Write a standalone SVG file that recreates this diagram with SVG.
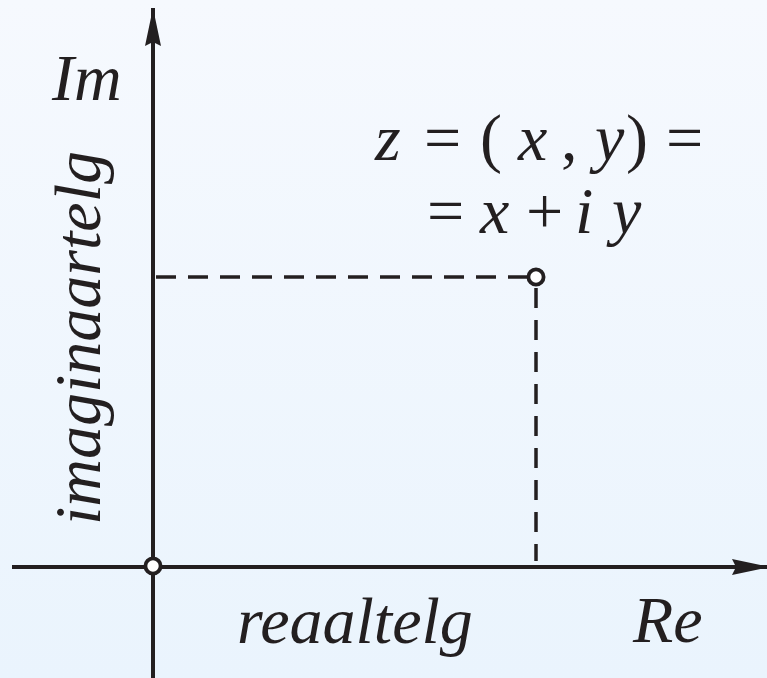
<svg xmlns="http://www.w3.org/2000/svg" width="767" height="678" viewBox="0 0 767 678">
<defs>
<linearGradient id="bg" x1="0" y1="0" x2="0" y2="1">
<stop offset="0" stop-color="#f6f9fe"/>
<stop offset="1" stop-color="#eaf4fd"/>
</linearGradient>
<marker id="arr" viewBox="0 0 38 16" refX="38" refY="8" markerWidth="38" markerHeight="16" markerUnits="userSpaceOnUse" orient="auto">
<path d="M0,0 L38,8 L0,16 L4,8 Z" fill="#231f20"/>
</marker>
</defs>
<style>
.t{font-family:'Liberation Serif','Times New Roman',serif;font-style:italic;font-size:66px;fill:#231f20}
.u{font-style:normal}
.ax{stroke:#231f20;stroke-width:4;fill:none}
.ds{stroke:#231f20;stroke-width:3.5;fill:none;stroke-dasharray:20 12}
.pt{fill:#ffffff;stroke:#231f20;stroke-width:3.8}
</style>
<rect x="0" y="0" width="767" height="678" fill="url(#bg)"/>
<g id="connectors">
<line class="ax" x1="153" y1="678" x2="153" y2="8" marker-end="url(#arr)"/>
<line class="ax" x1="12" y1="567" x2="770" y2="567" marker-end="url(#arr)"/>
<line class="ds" x1="156" y1="277" x2="528" y2="277"/>
<line class="ds" x1="536" y1="288" x2="536" y2="561"/>
</g>
<g id="origin"><circle class="pt" cx="153" cy="566" r="7.6"/></g>
<g id="point-z"><circle class="pt" cx="536" cy="277" r="7.6"/></g>
<g id="label-im"><text class="t" x="52" y="100">Im</text></g>
<g id="label-re"><text class="t" x="633" y="642">Re</text></g>
<g id="label-real"><text class="t" x="237" y="643">reaaltelg</text></g>
<g id="label-imag"><text class="t" transform="translate(100,525) rotate(-90)" x="0" y="0">imaginaartelg</text></g>
<g id="formula">
<text class="t" y="160"><tspan x="375">z</tspan><tspan class="u" x="424">=</tspan><tspan class="u" x="480">(</tspan><tspan x="518">x</tspan><tspan class="u" x="561">,</tspan><tspan x="595">y</tspan><tspan class="u" x="626">)</tspan><tspan class="u" x="666">=</tspan></text>
<text class="t" y="233"><tspan class="u" x="427">=</tspan><tspan x="480">x</tspan><tspan class="u" x="526">+</tspan><tspan x="575">i</tspan><tspan x="612">y</tspan></text>
</g>
</svg>
